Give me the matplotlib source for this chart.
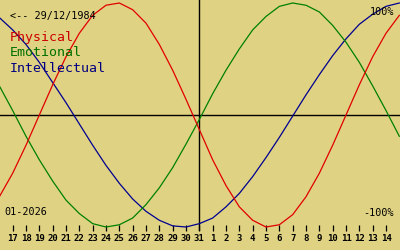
import matplotlib
matplotlib.use('Agg')
import matplotlib.pyplot as plt
import numpy as np

# days shown: 16 Dec 2025 .. 15 Jan 2026 (first and last only half visible)
days = [16, 17, 18, 19, 20, 21, 22, 23, 24, 25, 26, 27, 28, 29, 30, 31,
        1, 2, 3, 4, 5, 6, 7, 8, 9, 10, 11, 12, 13, 14, 15]
today = 31
birth_label = '<-- 29/12/1984'
month_label = '01-2026'

# cycle values (-1..1), one per day
physical = [-0.73, -0.52, -0.27, 0.00, 0.27, 0.52, 0.73, 0.89, 0.98, 1.00,
            0.94, 0.82, 0.63, 0.40, 0.14, -0.13, -0.40, -0.63, -0.82, -0.94,
            -1.00, -0.98, -0.89, -0.73, -0.52, -0.27, 0.00, 0.27, 0.52, 0.73,
            0.89]
emotional = [0.26, 0.04, -0.19, -0.40, -0.59, -0.76, -0.88, -0.97, -1.00, -0.98,
             -0.92, -0.80, -0.65, -0.47, -0.26, -0.04, 0.19, 0.40, 0.59, 0.76,
             0.88, 0.97, 1.00, 0.98, 0.92, 0.80, 0.65, 0.47, 0.26, 0.04,
             -0.19]
intellectual = [0.87, 0.76, 0.63, 0.47, 0.29, 0.11, -0.08, -0.27, -0.45, -0.61,
                -0.75, -0.86, -0.94, -0.99, -1.00, -0.97, -0.92, -0.82, -0.70, -0.55,
                -0.38, -0.20, -0.01, 0.18, 0.36, 0.53, 0.68, 0.81, 0.90, 0.97,
                1.00]

bg = '#e0d283'
red = '#e00000'
green = '#008000'
blue = '#000090'
mono = 'DejaVu Sans Mono'

fig = plt.figure(figsize=(4, 2.5), dpi=100, facecolor=bg)
# axes stops at the tick row, 19px above the bottom
ax = fig.add_axes([0, 19 / 250, 1, 231 / 250])
ax.set_facecolor(bg)

x = np.arange(len(days))
ax.axhline(0, color='black', lw=1, zorder=1)
ax.axvline(days.index(today), color='black', lw=1, zorder=1)

ax.plot(x, intellectual, color=blue, lw=0.9, zorder=2)
ax.plot(x, emotional, color=green, lw=0.9, zorder=3)
ax.plot(x, physical, color=red, lw=0.9, zorder=4)

ax.set_xlim(0.05, 30.05)
ax.set_ylim(-116 / 112, 115 / 112)

ax.set_xticks(x[1:-1])
ax.set_xticklabels([str(d) for d in days[1:-1]], fontfamily=mono,
                   fontweight='bold', fontsize=6.5)
ax.tick_params(axis='x', direction='in', length=4.3, width=0.9, pad=2,
               colors='black')
ax.set_yticks([])
for s in ax.spines.values():
    s.set_visible(False)

fs = 9.5
small = 7.3
fig.text(10 / 400, 1 - 16 / 250, birth_label, fontfamily=mono, fontsize=small,
         color='black', va='center', ha='left')
fig.text(10 / 400, 1 - 38 / 250, 'Physical', fontfamily=mono, fontsize=fs,
         color='#cc0000', va='center', ha='left')
fig.text(10 / 400, 1 - 53 / 250, 'Emotional', fontfamily=mono, fontsize=fs,
         color='#007000', va='center', ha='left')
fig.text(10 / 400, 1 - 68 / 250, 'Intellectual', fontfamily=mono, fontsize=fs,
         color='#000080', va='center', ha='left')
fig.text(394 / 400, 1 - 12 / 250, '100%', fontfamily=mono, fontsize=small,
         color='black', va='center', ha='right')
fig.text(394 / 400, 1 - 213 / 250, '-100%', fontfamily=mono, fontsize=small,
         color='black', va='center', ha='right')
fig.text(4 / 400, 1 - 212 / 250, month_label, fontfamily=mono, fontsize=small,
         color='black', va='center', ha='left')

fig.savefig('out.png', dpi=100, facecolor=bg)
